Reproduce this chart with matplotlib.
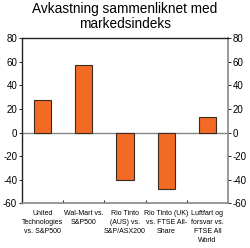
import matplotlib.pyplot as plt
import numpy as np

labels = ["United\nTechnologies\nvs. S&P500", "Wal-Mart vs.\nS&P500",
          "Rio Tinto\n(AUS) vs.\nS&P/ASX200", "Rio Tinto (UK)\nvs. FTSE All-\nShare",
          "Luftfart og\nforsvar vs.\nFTSE All\nWorld"]
values = [28, 57, -40, -48, 13]
yticks = [-60, -40, -20, 0, 20, 40, 60, 80]

plt.rcParams["font.family"] = ["Liberation Sans", "DejaVu Sans"]

fig = plt.figure(figsize=(2.5, 2.48), dpi=100)
ax = fig.add_axes([0.088, 0.18, 0.824, 0.666])

x = np.arange(len(values))
ax.bar(x, values, width=0.42, color="#f26a24", edgecolor="#3a2a20", linewidth=0.8, zorder=3)
ax.axhline(0, color="#888888", linewidth=1, zorder=2)

ax.set_xlim(-0.5, 4.5)
ax.set_ylim(-60, 80)
ax.set_yticks(yticks)
ax.set_yticklabels([str(v) for v in yticks], fontsize=7)
ax.tick_params(axis="y", length=2, width=0.6, pad=1.5, right=True, labelright=True)

ax.set_xticks(x)
ax.set_xticklabels(labels, fontsize=5.0, linespacing=1.4)
ax.tick_params(axis="x", length=0, pad=5)
ax.set_xticks(np.arange(0.5, 4.5, 1), minor=True)
ax.tick_params(axis="x", which="minor", length=2.5, width=0.6, direction="in")

for s in ["left", "top"]:
    ax.spines[s].set_color("#222222")
    ax.spines[s].set_linewidth(1)
for s in ["right", "bottom"]:
    ax.spines[s].set_color("#888888")
    ax.spines[s].set_linewidth(1.2)

fig.suptitle("Avkastning sammenliknet med\nmarkedsindeks", fontsize=9.8, y=0.99, linespacing=1.05)

fig.savefig("out.png", dpi=100)
